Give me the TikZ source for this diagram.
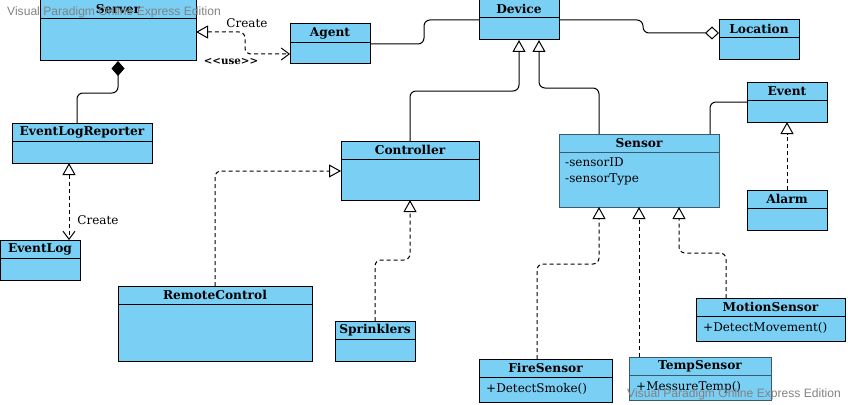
\documentclass[tikz,border=0pt]{standalone}
\usepackage{fontspec}
\setmainfont{DejaVu Serif}
\newfontfamily\wmfont{Liberation Sans}
\usetikzlibrary{arrows.meta,calc}
\definecolor{clsfill}{RGB}{122,207,245}
\definecolor{selborder}{RGB}{58,90,110}
\definecolor{wmgray}{RGB}{130,130,130}
\tikzset{
  cls/.style={draw=black, fill=clsfill, line width=1pt, inner sep=0pt, outer sep=0pt, rectangle},
  clstitle/.style={font=\bfseries\fontsize{12.2}{14}\selectfont, inner sep=0pt},
  clsattr/.style={font=\fontsize{12}{14}\selectfont, inner sep=0pt, anchor=west},
  conn/.style={line width=1pt, rounded corners=6pt},
  dashconn/.style={conn, dash pattern=on 4pt off 3pt},
  gen/.style={-{Triangle[open, length=12pt, width=13pt, fill=white]}},
  lbl/.style={font=\fontsize{12}{14}\selectfont, inner sep=0pt},
  wm/.style={font=\wmfont\fontsize{12.1}{14}\selectfont, text=wmgray, inner sep=0pt, anchor=west}
}
\newcommand\umlbox[8][black]{%
  \node[cls, draw=#1, anchor=north west, minimum width=#5pt, minimum height=#6pt] (#2) at (#3,#4) {};
  \draw[line width=1pt, draw=#1] ($(#2.north west)+(0,#7)$) -- ($(#2.north east)+(0,#7)$);
  \node[clstitle] at ($(#2.north)+(0,#7/2)$) {#8};
}
\begin{document}
\begin{tikzpicture}[x=1pt,y=-1pt]
\useasboundingbox (0,0) rectangle (848,404);
% classes
\umlbox{server}{40}{0}{156}{61}{19}{Server}
\umlbox{agent}{290}{24}{80}{40}{19}{Agent}
\umlbox{device}{479}{0}{80}{40}{18}{Device}
\umlbox{location}{719}{20}{80}{40}{18}{Location}
\umlbox{event}{747}{82}{80}{40}{18}{Event}
\umlbox{alarm}{747}{190}{80}{40}{18}{Alarm}
\umlbox[selborder]{sensor}{559}{134}{160}{73}{18}{Sensor}
\umlbox{controller}{341}{141}{138}{59}{18}{Controller}
\umlbox{elr}{12}{123}{140}{40}{18}{EventLogReporter}
\umlbox{eventlog}{0}{240}{80}{40}{18}{EventLog}
\umlbox{remote}{118}{286}{194}{75}{18}{RemoteControl}
\umlbox{sprinklers}{335}{321}{80}{40}{18}{Sprinklers}
\umlbox{motion}{696}{298}{149}{43}{18}{MotionSensor}
\umlbox{fire}{479}{359}{133}{43}{18}{FireSensor}
\umlbox[selborder]{temp}{629}{357}{142}{43}{18}{TempSensor}
% attributes / operations
\node[clsattr] (sid) at ($(sensor.north west)+(6,28)$) {-sensorID};
\node[clsattr] (stype) at ($(sensor.north west)+(6,45)$) {-sensorType};
\node[clsattr] (mop) at ($(motion.north west)+(7,30)$) {+DetectMovement()};
\node[clsattr] (fop) at ($(fire.north west)+(7,30)$) {+DetectSmoke()};
\node[clsattr] (top) at ($(temp.north west)+(7,30)$) {+MessureTemp()};
% connectors
\draw[dashconn, {Triangle[open, length=12pt, width=13pt, fill=white]}-{Straight Barb[length=8pt, width=12pt]}]
  ($(server.north east)+(0,32)$) -- (245,32) -- (245,54) -- ($(agent.north west)+(0,30)$);
\node[lbl] (lcreate1) at (247,23) {Create};
\node[font=\bfseries\fontsize{10.3}{12}\selectfont, inner sep=0pt] (luse) at (231,62) {<{}<use>{}>};
\draw[conn] (agent.east) -- (424,44) -- (424,20) -- (device.west);
\draw[conn, -{Diamond[open, length=14pt, width=13pt, fill=white]}]
  (device.east) -- (643,20) -- (643,33) -- ($(location.north west)+(0,13)$);
\draw[conn, gen] ($(controller.north west)+(69,0)$) -- (410,91) -- (519,91) -- (device.south);
\draw[conn, gen] ($(sensor.north west)+(40,0)$) -- (599,88) -- (539,88) -- ($(device.south west)+(60,0)$);
\draw[conn] ($(sensor.north west)+(151,0)$) -- (710,102) -- ($(event.north west)+(0,20)$);
\draw[dashconn, gen] (alarm.north) -- (event.south);
\draw[conn, -{Diamond[length=15pt, width=13pt]}]
  ($(elr.north west)+(65,0)$) -- (77,93) -- (118,93) -- (server.south);
\draw[dashconn, {Triangle[open, length=12pt, width=13pt, fill=white]}-{Straight Barb[length=8pt, width=12pt]}]
  ($(elr.south west)+(57,0)$) -- ($(eventlog.north west)+(69,0)$);
\node[lbl] (lcreate2) at (98,220) {Create};
\draw[dashconn, gen] (remote.north) -- (215,171) -- ($(controller.north west)+(0,30)$);
\draw[dashconn, gen] (sprinklers.north) -- (375,260) -- (410,260) -- ($(controller.south west)+(69,0)$);
\draw[dashconn, gen] ($(fire.north west)+(58,0)$) -- (537,264) -- (599,264) -- ($(sensor.south west)+(40,0)$);
\draw[dashconn, gen] ($(temp.north west)+(10,0)$) -- ($(sensor.south west)+(80,0)$);
\draw[dashconn, gen] ($(motion.north west)+(30,0)$) -- (726,253) -- (679,253) -- ($(sensor.south west)+(120,0)$);
% watermarks
\node[wm] (wm1) at (7,12) {Visual Paradigm Online Express Edition};
\node[wm] (wm2) at (627,394) {Visual Paradigm Online Express Edition};
\end{tikzpicture}
\end{document}
